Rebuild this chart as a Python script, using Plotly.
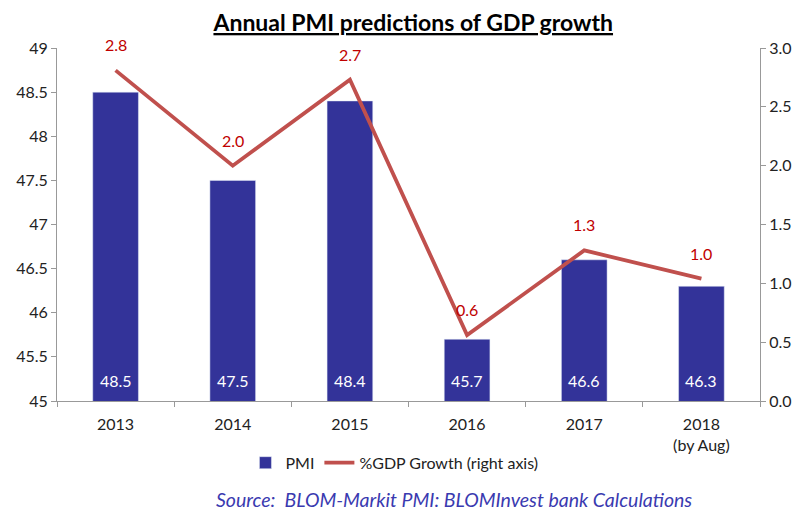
import plotly.graph_objects as go

years = ["2013", "2014", "2015", "2016", "2017", "2018<br>(by Aug)"]
pmi = [48.5, 47.5, 48.4, 45.7, 46.6, 46.3]
gdp = [2.81, 2.0, 2.73, 0.56, 1.28, 1.04]

idx = list(range(len(years)))
bounds = [i - 0.5 for i in range(len(years) + 1)]

FONT = "Lato"
fig = go.Figure()
fig.add_trace(go.Bar(
    x=idx, y=pmi, name="PMI", marker_color="#333399", width=0.39,
))
fig.add_trace(go.Scatter(
    x=idx, y=gdp, name="%GDP Growth (right axis)", yaxis="y2",
    mode="lines", line=dict(color="#C0504D", width=3.8),
))
for x, v in zip(idx, pmi):
    fig.add_annotation(x=x, y=45, xref="x", yref="y", text=f"{v:.1f}", showarrow=False,
                       yanchor="bottom", yshift=9,
                       font=dict(color="white", size=16, family=FONT))
for x, v in zip(idx, gdp):
    fig.add_annotation(x=x, y=v, xref="x", yref="y2", text=f"{v:.1f}", showarrow=False,
                       yanchor="bottom", yshift=14,
                       font=dict(color="#C00000", size=16, family=FONT))
fig.update_layout(
    width=804, height=510,
    margin=dict(l=57, r=41, t=48, b=109),
    paper_bgcolor="white", plot_bgcolor="white",
    font=dict(family=FONT, size=16, color="#222222"),
    title=dict(text="<b><u>Annual PMI predictions of GDP growth</u></b>",
               x=0.514, xanchor="center", y=0.955, yanchor="middle",
               font=dict(size=23, color="black", family=FONT)),
    xaxis=dict(range=[-0.5, 5.5], tickvals=idx, ticktext=years, ticks="",
               showline=True, linecolor="#999999", linewidth=1, showgrid=False,
               zeroline=False, tickfont=dict(size=16), ticklabelstandoff=9,
               minor=dict(tickvals=bounds, ticks="outside", ticklen=5,
                          tickcolor="#999999", showgrid=False)),
    yaxis=dict(range=[45, 49], dtick=0.5, showline=True, linecolor="#999999",
               ticks="outside", tickcolor="#999999", ticklen=5, showgrid=False,
               zeroline=False, tickfont=dict(size=16), tickformat="~g"),
    yaxis2=dict(range=[0, 3], dtick=0.5, overlaying="y", side="right",
                showline=True, linecolor="#999999", ticks="outside",
                tickcolor="#999999", ticklen=5, showgrid=False, zeroline=False,
                tickformat=".1f", tickfont=dict(size=16)),
    legend=dict(orientation="h", x=0.48, xanchor="center", y=-0.175, yanchor="middle",
                font=dict(size=16), traceorder="normal"),
    showlegend=True,
)
fig.add_annotation(text="<i>Source:  BLOM-Markit PMI: BLOMInvest bank Calculations</i>",
                   xref="paper", yref="paper", x=0.565, y=-0.28, xanchor="center",
                   yanchor="middle", showarrow=False,
                   font=dict(size=19.5, color="#3a3ab0", family=FONT))
fig.write_html("out.html", config={"displayModeBar": False},
               post_script="document.body.style.margin='0px';")
